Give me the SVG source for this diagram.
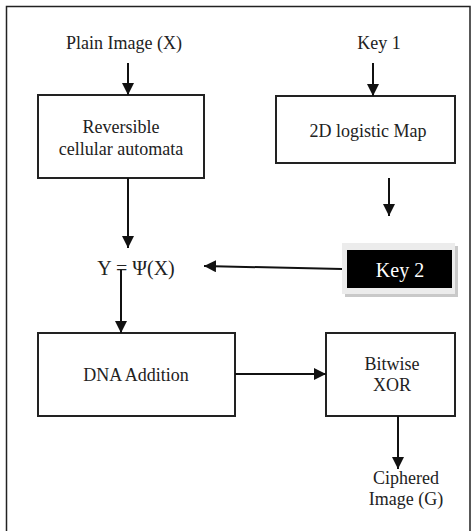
<svg xmlns="http://www.w3.org/2000/svg" width="475" height="531" viewBox="0 0 475 531" font-family="'Liberation Serif', 'DejaVu Serif', serif">
<style>
text{font-family:'Liberation Serif','DejaVu Serif',serif;font-size:18px;fill:#222;text-anchor:middle}
.box{fill:#fff;stroke:#222;stroke-width:2}
.ln{stroke:#111;stroke-width:2;fill:none}
</style>
<defs>
<marker id="ah" viewBox="0 0 12 12" refX="12" refY="6" markerWidth="12" markerHeight="12" markerUnits="userSpaceOnUse" orient="auto">
<path d="M0,0 L12,6 L0,12 Z" fill="#111"/>
</marker>
</defs>
<rect x="0" y="0" width="475" height="531" fill="#fff"/>
<path d="M6.5,540 V6.5 H470 V540" fill="none" stroke="#222" stroke-width="1.5"/>
<g id="plain"><text x="124" y="49">Plain Image (X)</text></g>
<g id="key1"><text x="379" y="49">Key 1</text></g>
<g id="rca"><rect class="box" x="38" y="95" width="166" height="83"/><text x="121" y="133">Reversible</text><text x="121" y="155">cellular automata</text></g>
<g id="logistic"><rect class="box" x="276" y="96" width="179" height="67"/><text x="368" y="137">2D logistic Map</text></g>
<g id="y"><text x="136" y="275" style="font-size:20px">Y = Ψ(X)</text></g>
<g id="key2">
<rect x="345" y="246" width="113" height="51" fill="#c9c9c9"/>
<rect x="342" y="243" width="113" height="51" fill="#ececec"/>
<rect x="347" y="250" width="105" height="38" fill="#000"/>
<text x="400" y="277" style="fill:#fff;font-size:20px">Key 2</text>
</g>
<g id="dna"><rect class="box" x="38" y="333" width="197" height="83"/><text x="136" y="381">DNA Addition</text></g>
<g id="xor"><rect class="box" x="326" y="333" width="129" height="83"/><text x="392" y="370">Bitwise</text><text x="392" y="391">XOR</text></g>
<g id="ciphered"><text x="406" y="484">Ciphered</text><text x="406" y="505">Image (G)</text></g>
<g id="connectors">
<line class="ln" x1="128" y1="63" x2="128" y2="95" marker-end="url(#ah)"/>
<line class="ln" x1="373" y1="63" x2="373" y2="96" marker-end="url(#ah)"/>
<line class="ln" x1="389" y1="178" x2="389" y2="216" marker-end="url(#ah)"/>
<line class="ln" x1="128" y1="178" x2="128" y2="248" marker-end="url(#ah)"/>
<line class="ln" x1="342" y1="269" x2="204" y2="266" marker-end="url(#ah)"/>
<line class="ln" x1="121" y1="270" x2="121" y2="333" marker-end="url(#ah)"/>
<line class="ln" x1="235" y1="374" x2="326" y2="374" marker-end="url(#ah)"/>
<line class="ln" x1="398" y1="416" x2="398" y2="469" marker-end="url(#ah)"/>
</g>
</svg>
